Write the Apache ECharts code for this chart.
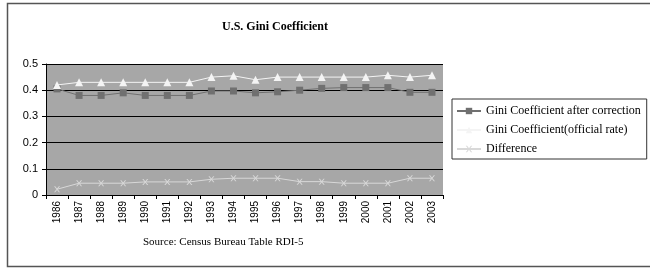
<!DOCTYPE html>
<html lang="en">
  <head>
    <meta charset="UTF-8" />
    <title>U.S. Gini Coefficient</title>
    <script src="https://cdn.jsdelivr.net/npm/echarts@6/dist/echarts.min.js"></script>
    <style>
      html, body { margin: 0; padding: 0; background: #fff; }
      #chart { width: 650px; height: 269px; }
    </style>
  </head>
  <body>
    <div id="chart"></div>
    <script>
      // data
      var years = ["1986", "1987", "1988", "1989", "1990", "1991", "1992", "1993", "1994",
        "1995", "1996", "1997", "1998", "1999", "2000", "2001", "2002", "2003"];
      var corrected = [0.405, 0.38, 0.38, 0.39, 0.38, 0.38, 0.38, 0.397, 0.397,
        0.39, 0.394, 0.40, 0.407, 0.41, 0.41, 0.41, 0.392, 0.392];
      var official = [0.42, 0.43, 0.43, 0.43, 0.43, 0.43, 0.43, 0.45, 0.455,
        0.44, 0.45, 0.45, 0.45, 0.45, 0.45, 0.457, 0.45, 0.457];
      var difference = [0.022, 0.045, 0.045, 0.045, 0.05, 0.05, 0.05, 0.06, 0.064,
        0.064, 0.064, 0.051, 0.051, 0.045, 0.045, 0.045, 0.064, 0.064];
      var yTicks = ["0", "0.1", "0.2", "0.3", "0.4", "0.5"];

      var serif = "'Liberation Serif', 'DejaVu Serif', serif";
      var sans = "'Liberation Sans', Arial, sans-serif";

      var chart = echarts.init(document.getElementById("chart"));
      var option = {
        backgroundColor: "#fff",
        animation: false,
        title: {
          text: "U.S. Gini Coefficient",
          left: 270,
          textAlign: "center",
          top: 16,
          textStyle: { fontFamily: serif, fontSize: 12, fontWeight: "bold", color: "#000" },
        },
        graphic: [
          {
            type: "rect",
            shape: { x: 7.5, y: 3.5, width: 660, height: 263 },
            style: { fill: "none", stroke: "#555", lineWidth: 1.5 },
            z: -1,
          },
          {
            type: "text",
            left: 143,
            top: 237,
            style: { text: "Source: Census Bureau Table RDI-5", fontFamily: serif, fontSize: 11, fill: "#000" },
          },
        ],
        legend: {
          orient: "vertical",
          left: 452,
          top: 99,
          padding: [6, 6, 4, 4],
          itemGap: 7,
          itemWidth: 24,
          itemHeight: 8,
          borderColor: "#333",
          borderWidth: 1,
          textStyle: { fontFamily: serif, fontSize: 12, lineHeight: 12, color: "#000" },
          data: ["Gini Coefficient after correction", "Gini Coefficient(official rate)", "Difference"],
        },
        grid: { left: 46, right: 207, top: 64, height: 131 },
        xAxis: {
          type: "category",
          data: years,
          boundaryGap: true,
          axisLine: { lineStyle: { color: "#000" } },
          axisTick: { show: true, length: 4, lineStyle: { color: "#000" } },
          axisLabel: { rotate: 90, fontFamily: sans, fontSize: 10, color: "#000", margin: 6 },
        },
        yAxis: {
          type: "value",
          min: 0,
          max: 0.5,
          interval: 0.1,
          axisLine: { show: true, lineStyle: { color: "#000" } },
          axisTick: { show: true, length: 4, lineStyle: { color: "#000" } },
          axisLabel: {
            fontFamily: sans,
            fontSize: 11,
            color: "#000",
            margin: 8,
            formatter: function (v) { return yTicks[Math.round(v * 10)]; },
          },
          splitLine: { lineStyle: { color: "#000", width: 1 } },
          splitArea: { show: true, areaStyle: { color: ["#a7a7a7", "#a7a7a7"] } },
        },
        series: [
          {
            name: "Gini Coefficient after correction",
            type: "line",
            data: corrected,
            symbol: "rect",
            symbolSize: 7,
            lineStyle: { color: "#707070", width: 1 },
            itemStyle: { color: "#707070" },
          },
          {
            name: "Gini Coefficient(official rate)",
            type: "line",
            data: official,
            symbol: "triangle",
            symbolSize: 8,
            lineStyle: { color: "#f4f4f4", width: 1 },
            itemStyle: { color: "#f4f4f4" },
          },
          {
            name: "Difference",
            type: "line",
            data: difference,
            symbol: "path://M0,0L2,2L0,4L1,4L2.5,2.5L4,4L5,4L3,2L5,0L4,0L2.5,1.5L1,0Z",
            symbolSize: 6,
            lineStyle: { color: "#d8d8d8", width: 1 },
            itemStyle: { color: "#d8d8d8" },
          },
        ],
      };
      chart.setOption(option);
    </script>
  </body>
</html>
